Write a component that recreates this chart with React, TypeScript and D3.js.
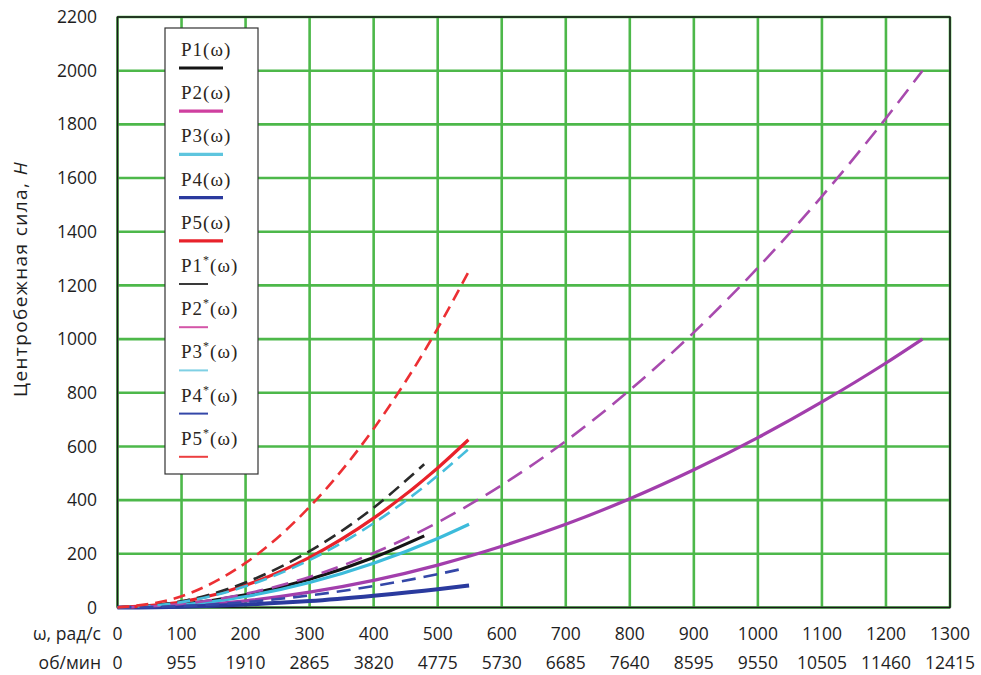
import React from "react";
import * as d3 from "d3";

// Tick labels
const radTicks = [0, 100, 200, 300, 400, 500, 600, 700, 800, 900, 1000, 1100, 1200, 1300];
const rpmLabels = ["0", "955", "1910", "2865", "3820", "4775", "5730", "6685", "7640", "8595", "9550", "10505", "11460", "12415"];
const forceTicks = [0, 200, 400, 600, 800, 1000, 1200, 1400, 1600, 1800, 2000, 2200];

// Angular velocity samples (rad/s) for each family of curves
const wP1 = [0, 100, 200, 300, 400, 479];
const wP2 = [0, 100, 200, 300, 400, 500, 600, 700, 800, 900, 1000, 1100, 1200, 1257];
const wP3 = [0, 100, 200, 300, 400, 500, 549];
const wP3s = [0, 100, 200, 300, 400, 500, 548];
const wP4 = [0, 100, 200, 300, 400, 500, 549];
const wP4s = [0, 100, 200, 300, 400, 500, 540];
const wP5 = [0, 100, 200, 300, 400, 500, 548];

// Centrifugal force values (N)
const p1 = [0, 12, 47, 105, 186, 267];
const p1s = [0, 23, 93, 210, 372, 534];
const p2 = [0, 6, 25, 57, 101, 158, 228, 310, 405, 513, 633, 766, 911, 1000];
const p2s = [0, 13, 51, 114, 203, 317, 456, 620, 810, 1025, 1266, 1532, 1823, 2000];
const p3 = [0, 10, 41, 93, 165, 257, 310];
const p3s = [0, 20, 79, 177, 314, 491, 590];
const p4 = [0, 3, 11, 24, 44, 68, 82];
const p4s = [0, 5, 20, 45, 80, 124, 145];
const p5 = [0, 21, 83, 187, 333, 520, 625];
const p5s = [0, 42, 166, 375, 666, 1040, 1250];

type Series = {
  name: string;
  star: boolean;
  w: number[];
  p: number[];
  color: string;
  legendColor: string;
  width: number;
  dash?: string;
};

const solidSeries: Series[] = [
  { name: "P1", star: false, w: wP1, p: p1, color: "#141414", legendColor: "#141414", width: 3.2 },
  { name: "P2", star: false, w: wP2, p: p2, color: "#a23eac", legendColor: "#cf3f9f", width: 3.2 },
  { name: "P3", star: false, w: wP3, p: p3, color: "#3cbbdb", legendColor: "#5ec5de", width: 3.2 },
  { name: "P4", star: false, w: wP4, p: p4, color: "#2a3a9e", legendColor: "#2a3a9e", width: 4 },
  { name: "P5", star: false, w: wP5, p: p5, color: "#e8222b", legendColor: "#e8222b", width: 3.2 },
];

const dashedSeries: Series[] = [
  { name: "P1", star: true, w: wP1, p: p1s, color: "#2a2a2a", legendColor: "#3a3a3a", width: 2.6, dash: "13 7" },
  { name: "P2", star: true, w: wP2, p: p2s, color: "#a84aae", legendColor: "#d455a8", width: 2.6, dash: "17 9" },
  { name: "P3", star: true, w: wP3s, p: p3s, color: "#45bddc", legendColor: "#7fd0e4", width: 2.6, dash: "13 7" },
  { name: "P4", star: true, w: wP4s, p: p4s, color: "#3447a8", legendColor: "#3447a8", width: 2.6, dash: "14 8" },
  { name: "P5", star: true, w: wP5, p: p5s, color: "#ec2f33", legendColor: "#ec3f40", width: 2.6, dash: "12 7" },
];

const W = 981;
const H = 675;
const plotLeft = 117.5;
const plotRight = 950;
const plotTop = 17;
const plotBottom = 607.5;

const sansFont = "'Open Sans', 'Noto Sans', sans-serif";
const serifFont = "'Liberation Serif', 'DejaVu Serif', serif";
const gridColor = "#4db84a";

export default function App() {
  const x = d3.scaleLinear().domain([0, 1300]).range([plotLeft, plotRight]);
  const y = d3.scaleLinear().domain([0, 2200]).range([plotBottom, plotTop]);

  const pathFor = (s: Series) =>
    d3
      .line<number>()
      .x((_, i) => x(s.w[i]))
      .y((v) => y(v))
      .curve(d3.curveMonotoneX)(s.p) || "";

  const legendItems = [...solidSeries, ...dashedSeries];
  const legendX = 165;
  const legendY = 28;
  const legendW = 93;
  const legendH = 446;

  return (
    <div style={{ position: "absolute", left: 0, top: 0 }}>
      <svg width={W} height={H} style={{ display: "block", background: "#ffffff" }}>
        {/* grid */}
        <g>
          {radTicks.map((t) => (
            <line key={"vx" + t} x1={x(t)} x2={x(t)} y1={plotTop} y2={plotBottom} stroke={gridColor} strokeWidth={2.6} />
          ))}
          {forceTicks.map((t) => (
            <line key={"hy" + t} x1={plotLeft} x2={plotRight} y1={y(t)} y2={y(t)} stroke={gridColor} strokeWidth={2.6} />
          ))}
        </g>

        {/* plot frame */}
        <rect
          x={plotLeft}
          y={plotTop}
          width={plotRight - plotLeft}
          height={plotBottom - plotTop}
          fill="none"
          stroke="#1a1a1a"
          strokeWidth={1.6}
        />

        {/* curves */}
        <g fill="none" strokeLinecap="butt" strokeLinejoin="round">
          {solidSeries.map((s) => (
            <path key={"s" + s.name} d={pathFor(s)} stroke={s.color} strokeWidth={s.width} />
          ))}
          {dashedSeries.map((s) => (
            <path key={"d" + s.name} d={pathFor(s)} stroke={s.color} strokeWidth={s.width} strokeDasharray={s.dash} />
          ))}
        </g>

        {/* legend */}
        <g>
          <rect x={legendX} y={legendY} width={legendW} height={legendH} fill="#ffffff" stroke="#333333" strokeWidth={1.2} />
          {legendItems.map((s, i) => {
            const ly = 68 + i * 43.2;
            return (
              <g key={"lg" + i}>
                <text
                  x={181}
                  y={ly - 12}
                  fontFamily={serifFont}
                  fontSize={19}
                  fill="#2b2520"
                  letterSpacing={1}
                >
                  {s.name}
                  {s.star ? (
                    <>
                      <tspan dy={-8} fontSize={12}>*</tspan>
                      <tspan dy={8}>(ω)</tspan>
                    </>
                  ) : (
                    <tspan>(ω)</tspan>
                  )}
                </text>
                <line
                  x1={179}
                  x2={s.star ? 208 : 223}
                  y1={ly}
                  y2={ly}
                  stroke={s.legendColor}
                  strokeWidth={s.star ? 2 : 3.2}
                />
              </g>
            );
          })}
        </g>

        {/* y tick labels */}
        <g fontFamily={sansFont} fontSize={17.5} fill="#1e1e1e" textAnchor="end">
          {forceTicks.map((t) => (
            <text key={"yl" + t} x={97} y={y(t)} dy="0.35em">
              {t}
            </text>
          ))}
        </g>

        {/* y axis title */}
        <text
          transform={`translate(27, 279) rotate(-90)`}
          textAnchor="middle"
          fontFamily={sansFont}
          fontSize={19}
          letterSpacing={1.4}
          fill="#1e1e1e"
        >
          Центробежная сила, <tspan fontStyle="italic">Н</tspan>
        </text>

        {/* x tick labels: rad/s and rpm */}
        <g fontFamily={sansFont} fontSize={17.5} fill="#1e1e1e">
          <text x={101} y={634} dy="0.35em" textAnchor="end">
            ω, рад/с
          </text>
          <text x={101} y={663} dy="0.35em" textAnchor="end">
            об/мин
          </text>
          {radTicks.map((t, i) => (
            <g key={"xl" + t}>
              <text x={x(t)} y={634} dy="0.35em" textAnchor="middle">
                {t}
              </text>
              <text x={x(t)} y={663} dy="0.35em" textAnchor="middle">
                {rpmLabels[i]}
              </text>
            </g>
          ))}
        </g>
      </svg>
    </div>
  );
}
